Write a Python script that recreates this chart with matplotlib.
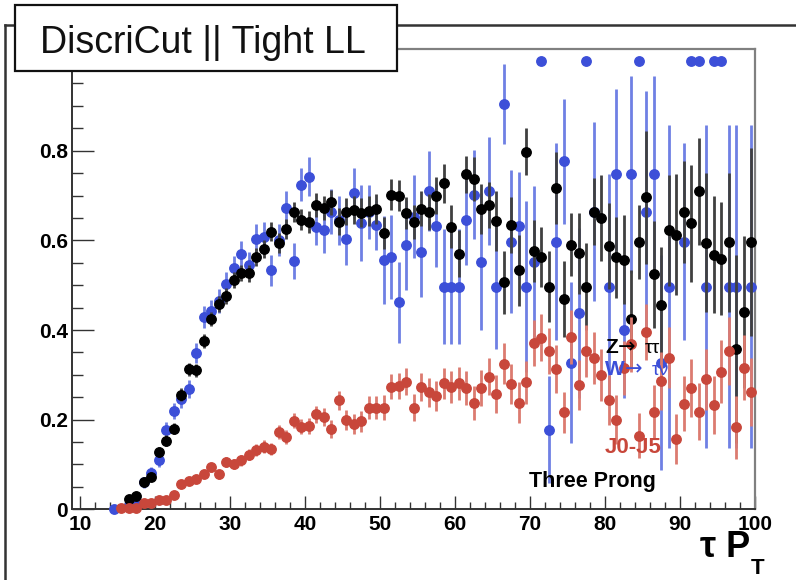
import numpy as np
import matplotlib
matplotlib.use("Agg")
import matplotlib.pyplot as plt
from matplotlib.patches import Rectangle
from matplotlib.lines import Line2D
from matplotlib.ticker import MultipleLocator, FixedLocator, FixedFormatter

plt.rcParams['font.family'] = ['Liberation Sans', 'DejaVu Sans']

nan = float('nan')

# tau pT bin centres (1 GeV bins from 14 to 100 GeV)
pt_centres = np.arange(14.5, 100.0, 1.0)

# Z -> tau tau efficiency and uncertainty
eff_ztautau = [
    nan, nan, 0.022, 0.029, 0.060, 0.073, 0.128, 0.153, 0.180, 0.256,
    0.312, 0.310, 0.375, 0.424, 0.458, 0.476, 0.511, 0.527, 0.527, 0.562,
    0.580, 0.619, 0.594, 0.625, 0.663, 0.646, 0.641, 0.679, 0.673, 0.685,
    0.642, 0.664, 0.668, 0.662, 0.666, 0.670, 0.616, 0.702, 0.700, 0.661,
    0.641, 0.670, 0.664, 0.700, 0.727, 0.630, 0.570, 0.747, 0.737, 0.670,
    0.679, 0.644, 0.506, 0.634, 0.533, 0.798, 0.576, 0.562, 0.497, 0.716,
    0.470, 0.590, 0.571, 0.497, 0.664, 0.650, 0.587, 0.562, 0.557, 0.424,
    0.596, 0.696, 0.524, 0.456, 0.622, 0.613, 0.663, 0.638, 0.709, 0.595,
    0.568, 0.559, 0.596, 0.358, 0.440, 0.596,
]
err_ztautau = [
    0, 0, 0.008, 0.008, 0.010, 0.010, 0.012, 0.012, 0.013, 0.014,
    0.015, 0.015, 0.016, 0.016, 0.017, 0.017, 0.018, 0.018, 0.019, 0.020,
    0.020, 0.021, 0.022, 0.022, 0.023, 0.024, 0.025, 0.026, 0.027, 0.028,
    0.030, 0.030, 0.031, 0.032, 0.033, 0.034, 0.035, 0.034, 0.034, 0.036,
    0.037, 0.039, 0.040, 0.041, 0.044, 0.048, 0.052, 0.042, 0.050, 0.055,
    0.052, 0.067, 0.070, 0.063, 0.080, 0.052, 0.070, 0.067, 0.080, 0.080,
    0.085, 0.070, 0.090, 0.096, 0.075, 0.095, 0.096, 0.090, 0.100, 0.110,
    0.083, 0.148, 0.120, 0.130, 0.123, 0.136, 0.113, 0.130, 0.120, 0.155,
    0.130, 0.126, 0.155, 0.210, 0.170, 0.210,
]

# W -> tau nu efficiency and uncertainty
eff_wtaunu = [
    0.000, nan, 0.010, 0.018, 0.060, 0.081, 0.109, 0.178, 0.220, 0.245,
    0.269, 0.349, 0.429, 0.443, 0.465, 0.502, 0.538, 0.569, 0.544, 0.604,
    0.607, 0.533, 0.600, 0.672, 0.553, 0.724, 0.742, 0.629, 0.622, 0.664,
    0.645, 0.604, 0.705, 0.638, 0.664, 0.634, 0.556, 0.563, 0.462, 0.590,
    0.653, 0.574, 0.710, 0.633, 0.497, 0.497, 0.497, 0.645, 0.702, 0.552,
    0.710, 0.497, 0.905, 0.597, 0.633, 0.497, 0.552, 1.000, 0.178, 0.597,
    0.776, 0.327, 0.438, 1.000, 0.664, nan, 0.497, 0.747, 0.399, 0.747,
    1.000, 0.664, 0.747, 0.327, 0.497, nan, 0.597, 1.000, 1.000, 0.497,
    1.000, 1.000, 0.497, 0.497, nan, 0.497,
]
err_wtaunu = [
    0, 0, 0.010, 0.010, 0.012, 0.013, 0.015, 0.017, 0.018, 0.020,
    0.020, 0.022, 0.024, 0.025, 0.026, 0.027, 0.028, 0.030, 0.030, 0.032,
    0.033, 0.035, 0.036, 0.037, 0.040, 0.037, 0.043, 0.040, 0.050, 0.050,
    0.055, 0.058, 0.056, 0.085, 0.060, 0.055, 0.098, 0.093, 0.090, 0.100,
    0.093, 0.100, 0.090, 0.093, 0.128, 0.128, 0.128, 0.100, 0.100, 0.153,
    0.120, 0.140, 0.089, 0.160, 0.120, 0.190, 0.170, 0.0, 0.120, 0.220,
    0.140, 0.180, 0.190, 0.0, 0.200, 0, 0.250, 0.190, 0.150, 0.220,
    0.0, 0.270, 0.220, 0.240, 0.360, 0, 0.220, 0.0, 0.0, 0.360,
    0.0, 0.0, 0.360, 0.360, 0, 0.360,
]

# J0-J5 dijet fake rate and uncertainty
eff_dijet = [
    nan, 0.002, 0.002, 0.003, 0.013, 0.014, 0.021, 0.021, 0.031, 0.057,
    0.063, 0.068, 0.079, 0.094, 0.078, 0.105, 0.101, 0.109, 0.122, 0.133,
    0.140, 0.135, 0.172, 0.162, 0.198, 0.184, 0.186, 0.212, 0.206, 0.179,
    0.243, 0.199, 0.190, 0.196, 0.227, 0.227, 0.227, 0.273, 0.275, 0.285,
    0.227, 0.273, 0.261, 0.253, 0.281, 0.273, 0.281, 0.270, 0.238, 0.270,
    0.296, 0.257, 0.325, 0.279, 0.238, 0.283, 0.371, 0.383, 0.353, 0.313,
    0.216, 0.385, 0.277, 0.353, 0.337, 0.300, 0.244, 0.200, 0.316, 0.368,
    0.164, 0.396, 0.218, 0.287, 0.338, 0.157, 0.236, 0.270, 0.218, 0.290,
    0.233, 0.307, 0.353, 0.183, 0.316, 0.261,
]
err_dijet = [
    0, 0.004, 0.004, 0.004, 0.005, 0.005, 0.006, 0.006, 0.007, 0.008,
    0.008, 0.009, 0.009, 0.010, 0.010, 0.011, 0.011, 0.012, 0.012, 0.013,
    0.014, 0.014, 0.015, 0.016, 0.017, 0.017, 0.018, 0.019, 0.020, 0.020,
    0.022, 0.022, 0.023, 0.024, 0.025, 0.026, 0.027, 0.028, 0.029, 0.030,
    0.030, 0.032, 0.032, 0.033, 0.035, 0.036, 0.037, 0.038, 0.038, 0.040,
    0.042, 0.043, 0.045, 0.045, 0.046, 0.048, 0.052, 0.052, 0.052, 0.053,
    0.045, 0.060, 0.055, 0.058, 0.058, 0.058, 0.055, 0.055, 0.060, 0.062,
    0.050, 0.062, 0.060, 0.065, 0.068, 0.055, 0.062, 0.065, 0.063, 0.068,
    0.065, 0.070, 0.075, 0.070, 0.072, 0.076,
]

x_ticks = [10, 20, 30, 40, 50, 60, 70, 80, 90, 100]
y_ticks = [0.0, 0.2, 0.4, 0.6, 0.8]
y_tick_labels = ["0", "0.2", "0.4", "0.6", "0.8"]

W, H = 796, 580
fig = plt.figure(figsize=(W / 100, H / 100), dpi=100)
fig.patch.set_facecolor('white')

ax_l, ax_r, ax_t, ax_b = 72, 755, 48.5, 509.3
ax = fig.add_axes([ax_l / W, 1 - ax_b / H, (ax_r - ax_l) / W, (ax_b - ax_t) / H])
ax.set_xlim(8.95, 100)
ax.set_ylim(0, 1.028)

series = [
    (eff_wtaunu, err_wtaunu, '#3c4fd8', '#6f80e4', 3),
    (eff_ztautau, err_ztautau, '#000000', '#404040', 4),
    (eff_dijet, err_dijet, '#c8473b', '#dc7b70', 5),
]
for vals, errs, mcol, ecol, z in series:
    vals = np.array(vals, dtype=float)
    errs = np.array(errs, dtype=float)
    ok = ~np.isnan(vals)
    ax.errorbar(pt_centres[ok], vals[ok], yerr=errs[ok], fmt='o', ms=6.8,
                mfc=mcol, mec=mcol, ecolor=ecol, elinewidth=2.0, capsize=0,
                zorder=z, clip_on=False)

# axes styling
for side in ['left', 'bottom']:
    ax.spines[side].set_color('#333333')
    ax.spines[side].set_linewidth(1.4)
for side in ['top', 'right']:
    ax.spines[side].set_color('#808080')
    ax.spines[side].set_linewidth(1.6)

ax.xaxis.set_major_locator(FixedLocator(x_ticks))
ax.xaxis.set_minor_locator(MultipleLocator(2))
ax.yaxis.set_major_locator(FixedLocator(y_ticks))
ax.yaxis.set_major_formatter(FixedFormatter(y_tick_labels))
ax.yaxis.set_minor_locator(MultipleLocator(0.05))
ax.tick_params(axis='x', which='major', direction='in', length=9.5, width=1.0,
               color='#333333', labelsize=15, pad=4, top=False)
ax.tick_params(axis='x', which='minor', direction='in', length=4.7, width=1.0,
               color='#333333', top=False)
ax.tick_params(axis='y', which='major', direction='in', length=15.5, width=1.0,
               color='#333333', labelsize=15, pad=3, right=False)
ax.tick_params(axis='y', which='minor', direction='in', length=8, width=1.0,
               color='#333333', right=False)
for lab in ax.get_xticklabels() + ax.get_yticklabels():
    lab.set_fontweight('bold')

# canvas border
fig.add_artist(Line2D([5 / W, 5 / W], [1 - 25 / H, 0], color='#333333', lw=1.8))
fig.add_artist(Line2D([5 / W, 1], [1 - 25 / H, 1 - 25 / H], color='#333333', lw=1.8))

# title box
fig.add_artist(Rectangle((15 / W, 1 - 71 / H), 382 / W, 66 / H, facecolor='white',
                         edgecolor='#111111', lw=1.6, zorder=10))
fig.text(202.5 / W, 1 - 53.3 / H, "DiscriCut || Tight LL", fontsize=27,
         ha='center', va='baseline', color='#111111', zorder=11)

# sample labels
blue_txt = '#3c4fd8'
fig.text(605 / W, 1 - 353 / H, "Z", fontsize=15, fontweight='bold', color='black', zorder=2)
fig.text(618 / W, 1 - 353 / H, "\u2192", fontsize=15, family='DejaVu Sans', color='black', zorder=2)
fig.text(645 / W, 1 - 353 / H, "\u03c4\u03c4", fontsize=14, color='black', zorder=2)
fig.text(605 / W, 1 - 375 / H, "W", fontsize=15, fontweight='bold', color=blue_txt, zorder=2)
fig.text(625 / W, 1 - 375 / H, "\u2192", fontsize=15, family='DejaVu Sans', color=blue_txt, zorder=2)
fig.text(652 / W, 1 - 375 / H, "\u03c4\u03bd", fontsize=14, color=blue_txt, zorder=2)
fig.text(605 / W, 1 - 453 / H, "J0-J5", fontsize=16, fontweight='bold', color='#c8473b', zorder=2)
fig.text(529 / W, 1 - 486.7 / H, "Three Prong", fontsize=15.5, fontweight='bold', color='black', zorder=2)

# x-axis title
fig.text(700 / W, 1 - 557 / H, "\u03c4 P", fontsize=26, fontweight='bold', color='black')
fig.text(751 / W, 1 - 574 / H, "T", fontsize=16, fontweight='bold', color='black')

fig.savefig("out.png", dpi=100, facecolor='white')
